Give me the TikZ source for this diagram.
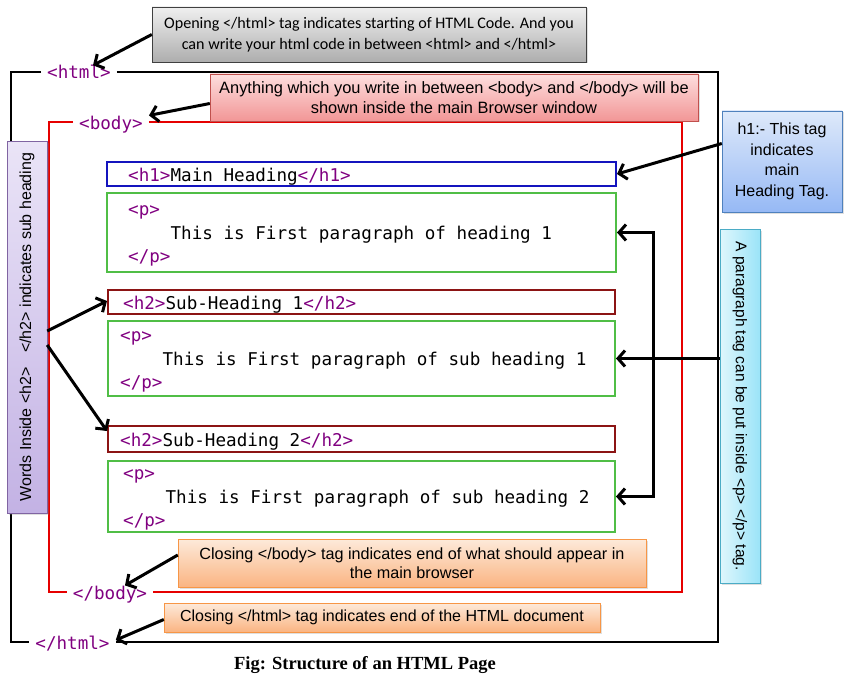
\documentclass[tikz,border=0pt]{standalone}
\usepackage{fontspec}
\setmainfont{Liberation Sans}
\newfontfamily\codefont{DejaVu Sans Mono}
\newfontfamily\calfont{Carlito}
\newfontfamily\capfont{Liberation Serif}
\usetikzlibrary{arrows.meta,shadows}

\definecolor{tagpurple}{RGB}{128,0,128}
\definecolor{hone}{RGB}{20,20,190}
\definecolor{htwo}{RGB}{140,20,20}
\definecolor{pgreen}{RGB}{80,190,70}
\definecolor{bodyred}{RGB}{230,0,0}
\definecolor{orangeedge}{RGB}{247,150,70}

\newcommand{\codesize}{\fontsize{17.6}{23.5}\selectfont}
\newcommand{\tg}[1]{\textcolor{tagpurple}{#1}}

\tikzstyle{tag}=[font=\codefont\codesize, text=tagpurple, inner xsep=6pt, inner ysep=0pt, anchor=base]
\tikzstyle{codetext}=[font=\codefont\codesize, inner sep=0pt, align=left]
\tikzstyle{codebox}=[draw, line width=2pt]
\tikzstyle{note}=[draw, align=center, inner sep=0pt, font=\fontsize{16}{20.5}\selectfont,
  drop shadow={opacity=0.25, shadow xshift=1.5pt, shadow yshift=-1.5pt}]
\tikzstyle{callarrow}=[line width=3pt, -{Straight Barb[length=7pt,width=16pt]}]
\tikzstyle{bracketarrow}=[line width=3pt, {Straight Barb[length=7pt,width=16pt]}-{Straight Barb[length=7pt,width=16pt]}]

\begin{document}
\begin{tikzpicture}[x=1pt, y=-1pt]
      \useasboundingbox (0,0) rectangle (847,685);

      % frames
      \coordinate (htmlTL) at (11,72);
      \coordinate (htmlTR) at (718,72);
      \coordinate (htmlBR) at (718,642);
      \coordinate (htmlBL) at (11,642);
      \coordinate (bodyTL) at (49,122);
      \coordinate (bodyTR) at (682,122);
      \coordinate (bodyBR) at (682,592);
      \coordinate (bodyBL) at (49,592);
      \node[tag] (htmlopen) at (79,79) {<html>};
      \node[tag] (htmlclose) at (72.5,649) {</html>};
      \node[tag] (bodyopen) at (111,129) {<body>};
      \node[tag] (bodyclose) at (110,599) {</body>};
      \draw[line width=2pt] (htmlopen.west |- htmlTL) -- (htmlTL) -- (htmlBL) -- (htmlclose.west |- htmlBL);
      \draw[line width=2pt] (htmlopen.east |- htmlTR) -- (htmlTR) -- (htmlBR) -- (htmlclose.east |- htmlBR);
      \draw[bodyred, line width=2.5pt] (bodyopen.west |- bodyTL) -- (bodyTL) -- (bodyBL) -- (bodyclose.west |- bodyBL);
      \draw[bodyred, line width=2.5pt] (bodyopen.east |- bodyTR) -- (bodyTR) -- (bodyBR) -- (bodyclose.east |- bodyBR);

      % code boxes
      \node[codebox, hone, minimum width=509pt, minimum height=24pt] (h1) at (361.5,174) {};
      \node[codebox, pgreen, minimum width=509pt, minimum height=79pt] (p1) at (361.5,232.5) {};
      \node[codebox, htwo, minimum width=507pt, minimum height=24pt] (h2a) at (361.5,302) {};
      \node[codebox, pgreen, minimum width=507pt, minimum height=75pt] (p2) at (361.5,358.5) {};
      \node[codebox, htwo, minimum width=507pt, minimum height=26pt] (h2b) at (361.5,439) {};
      \node[codebox, pgreen, minimum width=507pt, minimum height=71pt] (p3) at (361.5,496.5) {};

      \node[codetext, anchor=base west] (h1text) at (128,181) {\tg{<h1>}Main Heading\tg{</h1>}};
      \node[codetext, anchor=west] (p1text) at (128,236) {\tg{<p>}\\\phantom{0000}This is First paragraph of heading 1\\\tg{</p>}};
      \node[codetext, anchor=base west] (h2atext) at (123,309) {\tg{<h2>}Sub-Heading 1\tg{</h2>}};
      \node[codetext, anchor=west] (p2text) at (120,362) {\tg{<p>}\\\phantom{0000}This is First paragraph of sub heading 1\\\tg{</p>}};
      \node[codetext, anchor=base west] (h2btext) at (120,446) {\tg{<h2>}Sub-Heading 2\tg{</h2>}};
      \node[codetext, anchor=west] (p3text) at (123,500) {\tg{<p>}\\\phantom{0000}This is First paragraph of sub heading 2\\\tg{</p>}};

      % notes
      \node[note, draw=black!75, top color=black!6, bottom color=black!32, minimum width=434pt, minimum height=55pt,
        font=\calfont\fontsize{16.1}{21}\selectfont] (opennote) at (369,34.5)
        {Opening </html> tag indicates starting of HTML Code. And you\\can write your html code in between <html> and </html>};
      \node[note, draw={rgb,255:red,192;green,80;blue,77}, top color={rgb,255:red,253;green,222;blue,222},
        bottom color={rgb,255:red,242;green,150;blue,150}, minimum width=488pt, minimum height=47pt,
        font=\fontsize{16.4}{20.5}\selectfont] (bodynote) at (454,97.5)
        {Anything which you write in between <body> and </body> will be\\shown inside the main Browser window};
      \node[note, draw={rgb,255:red,79;green,129;blue,189}, top color={rgb,255:red,222;green,233;blue,250},
        bottom color={rgb,255:red,150;green,185;blue,245}, minimum width=120pt, minimum height=101pt] (h1note) at (782,161.5)
        {h1:- This tag\\indicates\\main\\Heading Tag.};
      \node[note, rotate=-90, draw={rgb,255:red,75;green,172;blue,198}, left color={rgb,255:red,222;green,246;blue,252},
        right color={rgb,255:red,155;green,228;blue,248}, minimum width=354pt, minimum height=40pt, font=\fontsize{15.5}{19}\selectfont] (pnote) at (740,406)
        {A paragraph tag can be put inside <p> </p> tag.};
      \node[note, rotate=90, draw={rgb,255:red,128;green,100;blue,162}, top color={rgb,255:red,234;green,228;blue,247},
        bottom color={rgb,255:red,195;green,178;blue,228}, minimum width=372pt, minimum height=40pt] (h2note) at (27,327)
        {Words Inside <h2>\hspace{10pt} </h2> indicates sub heading};
      \node[note, draw=orangeedge, top color={rgb,255:red,253;green,234;blue,218}, bottom color={rgb,255:red,250;green,180;blue,130},
        minimum width=468pt, minimum height=48pt, font=\fontsize{16.2}{19.5}\selectfont] (bodyclosenote) at (412,563)
        {Closing </body> tag indicates end of what should appear in\\the main browser};
      \node[note, draw=orangeedge, top color={rgb,255:red,253;green,234;blue,218}, bottom color={rgb,255:red,250;green,180;blue,130},
        minimum width=436pt, minimum height=29pt] (htmlclosenote) at (382,617.5)
        {Closing </html> tag indicates end of the HTML document};

      \node[font=\capfont\bfseries\fontsize{18.5}{22}\selectfont] (caption) at (365,665) {Fig: Structure of an HTML Page};

      % arrows
      \draw[callarrow] (opennote.west) -- ([xshift=14pt]htmlopen.north);
      \draw[callarrow] ([yshift=-6pt]bodynote.west) -- (bodyopen.north east);
      \draw[callarrow] ([yshift=18pt]h1note.west) -- (h1.east);
      \draw[callarrow] ([yshift=-4pt]h2note.south) -- ([yshift=1pt]h2a.west);
      \draw[callarrow] ([yshift=-18pt]h2note.south) -- ([yshift=8pt]h2b.west);
      \draw[callarrow] (pnote.south |- p2.east) -- (p2.east);
      \draw[bracketarrow] (p1.east) -- ++(36,0) |- (p3.east);
      \draw[callarrow] ([yshift=8pt]bodyclosenote.west) -- ([xshift=15pt]bodyclose.north);
      \draw[callarrow] ([yshift=-2pt]htmlclosenote.west) -- ([yshift=3pt]htmlclose.east);
    \end{tikzpicture}
\end{document}
